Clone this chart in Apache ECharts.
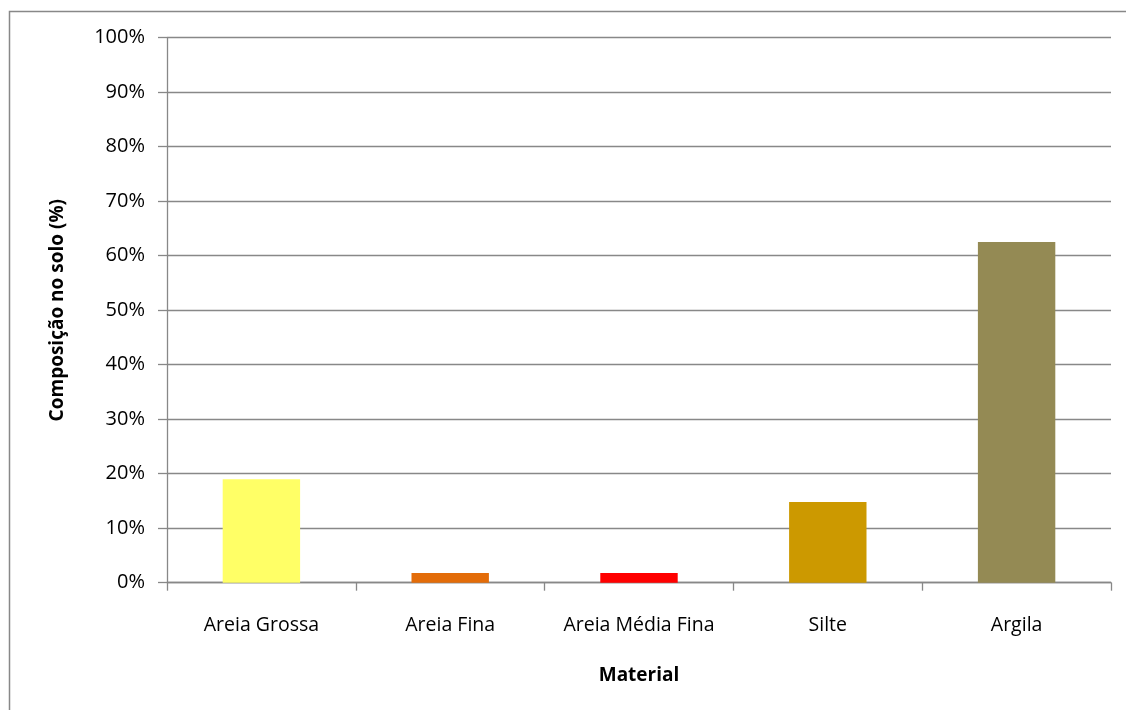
<!DOCTYPE html>
<html>
<head>
<meta charset="utf-8">
<script src="https://cdn.jsdelivr.net/npm/echarts@6/dist/echarts.min.js"></script>
<style>html,body{margin:0;padding:0;background:#fff}#c{width:1126px;height:710px}</style>
</head>
<body>
<div id="c"></div>
<script>
const categories = ['Areia Grossa', 'Areia Fina', 'Areia Média Fina', 'Silte', 'Argila'];
const values = [19.0, 1.8, 1.8, 14.8, 62.5];
const colors = ['#FFFF66', '#E36C09', '#FF0000', '#CC9900', '#948A54'];
const yTicks = [0, 10, 20, 30, 40, 50, 60, 70, 80, 90, 100];

const chart = echarts.init(document.getElementById('c'));
const font = '"Open Sans", "Liberation Sans", sans-serif';
chart.setOption({
  animation: false,
  backgroundColor: '#fff',
  textStyle: { fontFamily: font },
  graphic: [{
    type: 'rect', left: 7, top: 9, z: -1, silent: true,
    shape: { width: 1140, height: 720 },
    style: { fill: 'none', stroke: '#888', lineWidth: 1.5 }
  }],
  grid: { left: 167, right: 15, top: 37.7, bottom: 127.3, containLabel: false },
  xAxis: {
    type: 'category',
    data: categories,
    name: 'Material',
    nameLocation: 'middle',
    nameGap: 83,
    nameTextStyle: { fontWeight: 'bold', fontSize: 19, color: '#000', fontFamily: font },
    axisLine: { lineStyle: { color: '#888', width: 1.3 } },
    axisTick: { show: true, interval: 0, length: 8, lineStyle: { color: '#888', width: 1.3 } },
    axisLabel: { interval: 0, hideOverlap: false, fontSize: 19.5, color: '#000', margin: 33, fontFamily: font }
  },
  yAxis: {
    type: 'value',
    min: 0, max: 100, interval: 10,
    name: 'Composição no solo (%)',
    nameLocation: 'middle',
    nameGap: 100,
    nameTextStyle: { fontWeight: 'bold', fontSize: 19, color: '#000', fontFamily: font },
    axisLine: { show: true, lineStyle: { color: '#888', width: 1.3 } },
    axisTick: { show: true, length: 9, lineStyle: { color: '#888', width: 1.3 } },
    axisLabel: { fontSize: 20, color: '#000', margin: 22, fontFamily: font,
      formatter: v => yTicks.includes(v) ? v + '%' : '' },
    splitLine: { lineStyle: { color: '#888', width: 1.3 } }
  },
  series: [{
    type: 'bar',
    barWidth: '41%',
    data: values.map((v, i) => ({ value: v, itemStyle: { color: colors[i] } }))
  }]
});
</script>
</body>
</html>
